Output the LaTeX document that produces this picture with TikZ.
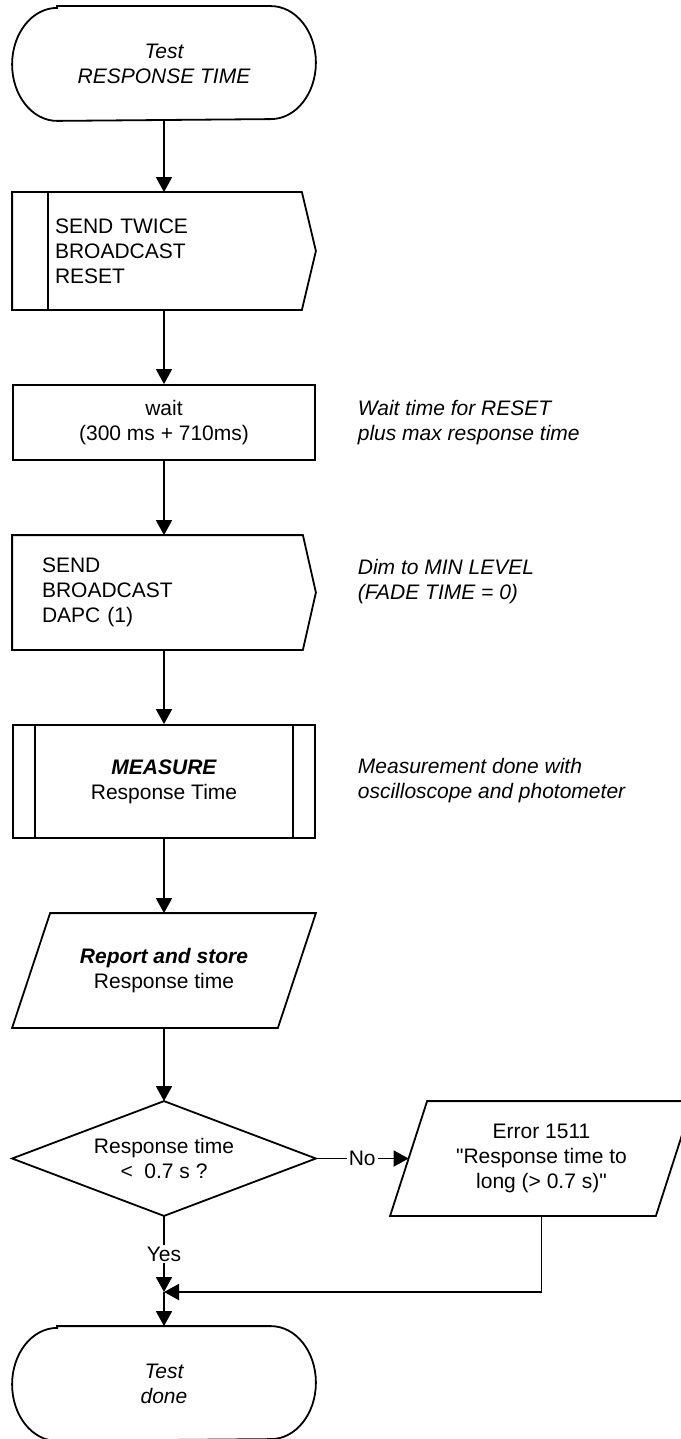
\documentclass[tikz,border=0pt]{standalone}
\usepackage{fontspec}
\setmainfont{Liberation Sans}[Ligatures=TeXOff]
\usetikzlibrary{arrows.meta}

\tikzset{
  flow/.style={-{Triangle[length=7.5pt,width=8pt]}},
  box/.style={minimum width=151pt, minimum height=56.5pt, inner sep=0pt, align=center},
  note/.style={anchor=west, align=left, inner sep=0pt, font=\itshape},
  lbl/.style={fill=white, inner sep=1pt},
}

\begin{document}
\fontsize{10.5}{12.5}\selectfont
\begin{tikzpicture}[x=0.5pt, y=-0.5pt, line width=0.9pt]
  \useasboundingbox (0,0) rectangle (680,1439);

  % start
  \node[box, font=\itshape] (start) at (164,63.5) {Test\\RESPONSE TIME};
  \draw ([xshift=22.5pt]start.north west) -- ([xshift=-22.5pt]start.north east)
    arc[start angle=90, end angle=-90, x radius=22.5pt, y radius=28.25pt]
    -- ([xshift=22.5pt]start.south west)
    arc[start angle=270, end angle=90, x radius=22.5pt, y radius=28.25pt] -- cycle;

  % send twice
  \node[box, minimum height=58pt, align=left, text width=109pt, inner xsep=21pt]
    (reset) at (164,251) {SEND TWICE\\BROADCAST\\RESET};
  \draw (reset.north west) -- ([xshift=-7pt]reset.north east) -- (reset.east)
    -- ([xshift=-7pt]reset.south east) -- (reset.south west) -- cycle;
  \draw ([xshift=18pt]reset.north west) -- ([xshift=18pt]reset.south west);

  % wait
  \node[box, draw, minimum height=37.5pt] (wait) at (164,422.5) {wait\\(300 ms + 710ms)};

  % send dapc
  \node[box, align=left, text width=122pt, inner xsep=14.5pt]
    (dapc) at (164,592.5) {SEND\\BROADCAST\\DAPC (1)};
  \draw (dapc.north west) -- ([xshift=-6.5pt]dapc.north east) -- (dapc.east)
    -- ([xshift=-6.5pt]dapc.south east) -- (dapc.south west) -- cycle;

  % measure
  \node[box, draw] (measure) at (164,781.5) {{\bfseries\itshape MEASURE}\\Response Time};
  \draw ([xshift=11.5pt]measure.north west) -- ([xshift=11.5pt]measure.south west);
  \draw ([xshift=-11.5pt]measure.north east) -- ([xshift=-11.5pt]measure.south east);

  % report
  \node[box] (report) at (164,970.5) {{\bfseries\itshape Report and store}\\Response time};
  \draw ([xshift=19pt]report.north west) -- (report.north east)
    -- ([xshift=-19pt]report.south east) -- (report.south west) -- cycle;

  % decision
  \node[box] (check) at (164,1158.5) {Response time\\{<}\ \ 0.7 s ?};
  \draw (check.north) -- (check.east) -- (check.south) -- (check.west) -- cycle;

  % error
  \node[box, minimum width=150.5pt] (error) at (541.5,1158.5)
    {Error 1511\\"Response time to\\long (> 0.7 s)"};
  \draw ([xshift=18.5pt]error.north west) -- (error.north east)
    -- ([xshift=-18.5pt]error.south east) -- (error.south west) -- cycle;

  % end
  \node[box, font=\itshape] (done) at (164,1383.5) {Test\\done};
  \draw ([xshift=22.5pt]done.north west) -- ([xshift=-22.5pt]done.north east)
    arc[start angle=90, end angle=-90, x radius=22.5pt, y radius=28.25pt]
    -- ([xshift=22.5pt]done.south west)
    arc[start angle=270, end angle=90, x radius=22.5pt, y radius=28.25pt] -- cycle;

  % notes
  \node[note] (n1) at (357,422.5) {Wait time for RESET\\plus max response time};
  \node[note] (n2) at (357,581.5) {Dim to MIN LEVEL\\(FADE TIME = 0)};
  \node[note] (n3) at (357,780.5) {Measurement done with\\oscilloscope and photometer};

  % arrows
  \draw[flow] (start.south) -- (reset.north);
  \draw[flow] (reset.south) -- (wait.north);
  \draw[flow] (wait.south) -- (dapc.north);
  \draw[flow] (dapc.south) -- (measure.north);
  \draw[flow] (measure.south) -- (report.north);
  \draw[flow] (report.south) -- (check.north);
  \draw[flow] (check.east) -- node[lbl] {No} ([xshift=9.25pt]error.west);
  \coordinate (join) at (164,1292);
  \draw[flow] (check.south) -- node[lbl] {Yes} (join);
  \draw[flow] (error.south) |- (join);
  \draw[flow] (join) -- (done.north);
\end{tikzpicture}
\end{document}
